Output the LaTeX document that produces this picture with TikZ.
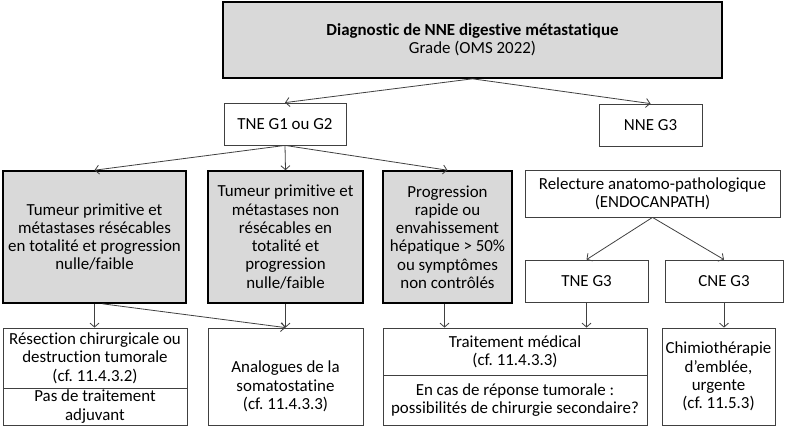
\documentclass[tikz,border=0pt]{standalone}
\usepackage{fontspec}
\setmainfont{Carlito}[Ligatures=NoCommon]
\usetikzlibrary{arrows.meta,calc}
\definecolor{boxgray}{HTML}{D9D9D9}
\definecolor{linegray}{HTML}{404040}
\frenchspacing
\tikzset{
  txt/.style={font=\fontsize{16.9}{18.3}\selectfont\frenchspacing, align=center, inner sep=0pt},
  graybox/.style={txt, draw=black, line width=1.6pt, fill=boxgray},
  whitebox/.style={txt, draw=linegray, line width=0.8pt, fill=white},
  arr/.style={draw=linegray, line width=0.8pt, -{Straight Barb[length=4pt,width=9pt]}}
}
\begin{document}
\begin{tikzpicture}[x=1pt,y=-1pt]
\useasboundingbox (0,0) rectangle (800,437);
% level 1
\node[graybox, minimum width=499pt, minimum height=76pt] (top) at (472.5,40)
  {\textbf{Diagnostic de NNE digestive métastatique}\\Grade (OMS 2022)};
% level 2
\node[whitebox, minimum width=122pt, minimum height=42pt] (g12) at (285,124) {TNE G1 ou G2};
\node[whitebox, minimum width=103pt, minimum height=42pt] (g3) at (650.5,125) {NNE G3};
% level 3
\node[graybox, minimum width=183pt, minimum height=132pt] (A) at (94.5,237)
  {Tumeur primitive et\\métastases résécables\\en totalité et progression\\nulle/faible};
\node[graybox, minimum width=155pt, minimum height=132pt] (B) at (285.5,237)
  {Tumeur primitive et\\métastases non\\résécables en\\totalité et\\progression\\nulle/faible};
\node[graybox, minimum width=129pt, minimum height=132pt] (C) at (447.5,237)
  {Progression\\rapide ou\\envahissement\\hépatique > 50\%\\ou symptômes\\non contrôlés};
\node[whitebox, minimum width=255pt, minimum height=47pt] (R) at (652.5,193.5)
  {Relecture anatomo-pathologique\\(ENDOCANPATH)};
\node[whitebox, minimum width=123pt, minimum height=42pt] (T3) at (586.5,281) {TNE G3};
\node[whitebox, minimum width=118pt, minimum height=42pt] (C3) at (724,281) {CNE G3};
% level 4
\node[whitebox, minimum width=184pt, minimum height=60pt] (D1) at (95,358)
  {Résection chirurgicale ou\\destruction tumorale\\(cf. 11.4.3.2)};
\node[whitebox, minimum width=184pt, minimum height=37pt] (D2) at (95,406.5)
  {Pas de traitement\\adjuvant};
\node[whitebox, minimum width=155pt, minimum height=97pt] (E) at (285.5,376.5) {};
\node[txt] (Etext) at (285.5,386.5) {Analogues de la\\somatostatine\\(cf. 11.4.3.3)};
\node[whitebox, minimum width=264pt, minimum height=47pt] (F1) at (515,351.5)
  {Traitement médical\\(cf. 11.4.3.3)};
\node[whitebox, minimum width=264pt, minimum height=50pt] (F2) at (515,400)
  {En cas de réponse tumorale :\\possibilités de chirurgie secondaire?};
\node[whitebox, minimum width=113pt, minimum height=97pt] (G) at (718.5,376.5)
  {Chimiothérapie\\d’emblée,\\urgente\\(cf. 11.5.3)};
% connectors
\draw[arr] (top.south) -- (g12.north);
\draw[arr] (top.south) -- (g3.north);
\draw[arr] (g12.south) -- (A.north);
\draw[arr] (g12.south) -- (B.north);
\draw[arr] (g12.south) -- (C.north);
\draw[arr] (R.south) -- (T3.north);
\draw[arr] (R.south) -- (C3.north);
\draw[arr] (A.south) -- (A.south |- D1.north);
\draw[arr] ($(A.south)+(8,0)$) -- (E.north);
\draw[arr] (B.south) -- (E.north);
\draw[arr] ($(C.south)+(-3,0)$) -- ($(C.south |- F1.north)+(-3,0)$);
\draw[arr] (T3.south) -- (T3.south |- F1.north);
\draw[arr] (C3.south) -- (C3.south |- G.north);
\end{tikzpicture}
\end{document}
